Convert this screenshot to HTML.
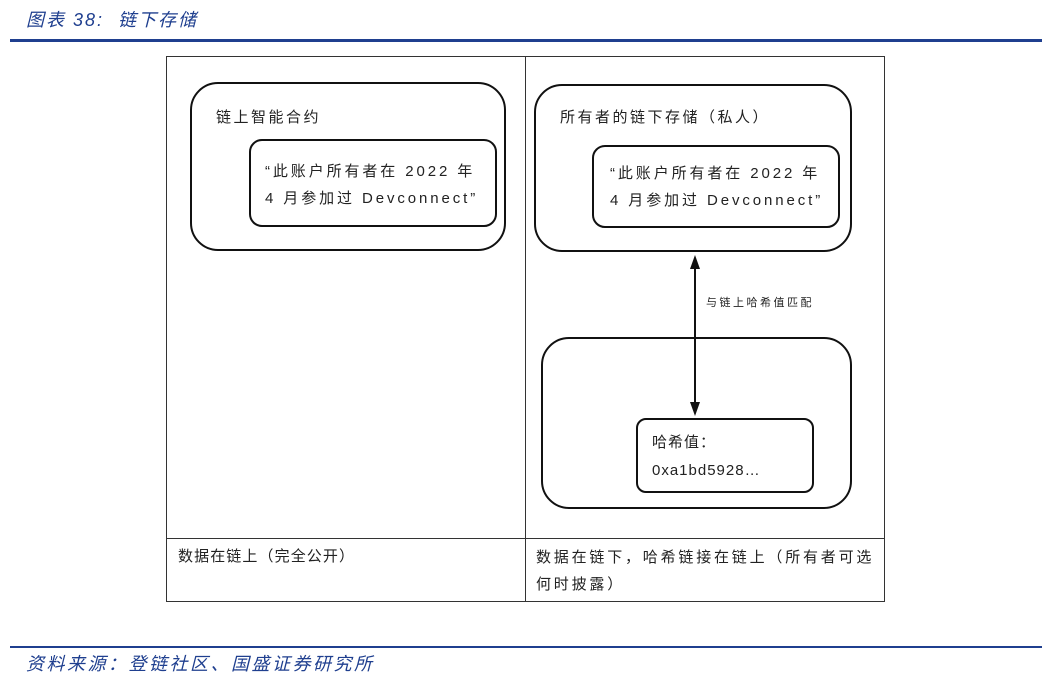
<!DOCTYPE html>
<html><head><meta charset="utf-8"><style>
body{margin:0;width:1064px;height:684px;background:#fff;position:relative;overflow:hidden;font-family:"Liberation Sans","Noto Sans CJK SC",sans-serif;}
.a{position:absolute;box-sizing:border-box;}
.t{position:absolute;white-space:nowrap;color:#222;}
.blue{color:#1f3f8f;font-style:italic;font-size:18px;}
.box{position:absolute;box-sizing:border-box;border:2px solid #111;}
</style></head><body>
<div class="t blue" style="left:26px;top:6px;letter-spacing:2px">图表 38:&nbsp;&nbsp;链下存储</div>
<div class="a" style="left:10px;top:39px;width:1032px;height:3px;background:#1f3f8f"></div>
<div class="a" style="left:166px;top:56px;width:719px;height:546px;border:1px solid #333"></div>
<div class="a" style="left:525px;top:56px;width:1px;height:546px;background:#333"></div>
<div class="a" style="left:166px;top:538px;width:719px;height:1px;background:#333"></div>

<div class="box" style="left:190px;top:82px;width:316px;height:169px;border-radius:28px"></div>
<div class="t" style="left:216px;top:106px;font-size:15px;letter-spacing:2.5px">链上智能合约</div>
<div class="box" style="left:249px;top:139px;width:248px;height:88px;border-radius:13px"></div>
<div class="t" style="left:265px;top:158px;font-size:15px;line-height:27px;letter-spacing:2.9px">“此账户所有者在 2022 年<br>4 月参加过 Devconnect”</div>

<div class="box" style="left:534px;top:84px;width:318px;height:168px;border-radius:28px"></div>
<div class="t" style="left:560px;top:106px;font-size:15px;letter-spacing:2.5px">所有者的链下存储（私人）</div>
<div class="box" style="left:592px;top:145px;width:248px;height:83px;border-radius:13px"></div>
<div class="t" style="left:610px;top:160px;font-size:15px;line-height:27px;letter-spacing:2.9px">“此账户所有者在 2022 年<br>4 月参加过 Devconnect”</div>

<svg class="a" style="left:0;top:0" width="1064" height="684">
<line x1="695" y1="268" x2="695" y2="404" stroke="#111" stroke-width="2"/>
<polygon points="695,255 690,269 700,269" fill="#111"/>
<polygon points="695,416 690,402 700,402" fill="#111"/>
</svg>
<div class="t" style="left:706px;top:294px;font-size:11px;letter-spacing:2.5px">与链上哈希值匹配</div>

<div class="box" style="left:541px;top:337px;width:311px;height:172px;border-radius:28px"></div>
<div class="box" style="left:636px;top:418px;width:178px;height:75px;border-radius:10px"></div>
<div class="t" style="left:652px;top:429px;font-size:15px;line-height:28px;letter-spacing:1px">哈希值：<br>0xa1bd5928…</div>

<div class="t" style="left:178px;top:545px;font-size:15px;letter-spacing:1.1px">数据在链上（完全公开）</div>
<div class="t" style="left:536px;top:544px;font-size:15px;line-height:27px;letter-spacing:2.8px">数据在链下，哈希链接在链上（所有者可选<br>何时披露）</div>

<div class="a" style="left:10px;top:646px;width:1032px;height:2px;background:#1f3f8f"></div>
<div class="t blue" style="left:26px;top:650px;letter-spacing:2.5px">资料来源：登链社区、国盛证券研究所</div>
</body></html>
